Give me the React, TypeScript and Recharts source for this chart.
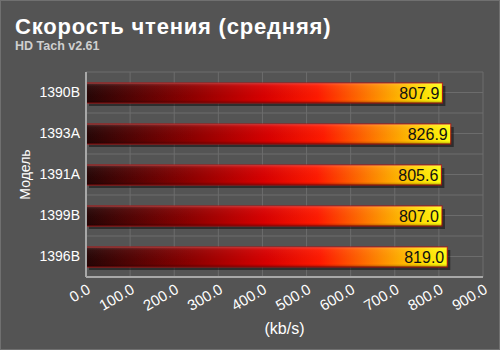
import * as React from 'react';
import { BarChart, Bar, XAxis, YAxis, CartesianGrid, LabelList, Label } from 'recharts';

const models: string[] = ['1390B', '1393A', '1391A', '1399B', '1396B'];
const speeds: number[] = [807.9, 826.9, 805.6, 807.0, 819.0];
const xTicks: number[] = [0, 100, 200, 300, 400, 500, 600, 700, 800, 900];

const title = 'Скорость чтения (средняя)';
const subtitle = 'HD Tach v2.61';
const yTitle = 'Модель';
const xTitle = '(kb/s)';

const FONT = '"Liberation Sans", Arial, sans-serif';

const data = models.map((m, i) => ({ model: m, speed: speeds[i] }));

// bar: shadow + gradient body + top sheen
const GradBar = (props: any) => {
  const { x, y, width, height } = props;
  if (!width || width <= 0) return null;
  return (
    <g>
      <rect x={x + 3} y={y + 3} width={width} height={height} fill="#000" opacity={0.45} />
      <rect x={x} y={y} width={width} height={height} fill="url(#barH)" stroke="#b01010" strokeWidth={1} />
      <rect x={x} y={y} width={width} height={height} fill="url(#barV)" />
    </g>
  );
};

// rotated tick, top-right corner sits under the grid line
const XTick = (props: any) => {
  const { x, y, payload } = props;
  return (
    <text x={x} y={y} dy="0.72em" transform={`rotate(-30 ${x} ${y})`} textAnchor="end"
      fill="#fff" fontSize={15} fontFamily={FONT}>
      {Number(payload.value).toFixed(1)}
    </text>
  );
};

const YTitle = (props: any) => {
  const vb = props.viewBox || {};
  const cx = 25;
  const cy = vb.y + vb.height / 2;
  return (
    <text x={cx} y={cy} transform={`rotate(-90 ${cx} ${cy})`} textAnchor="middle" dominantBaseline="central"
      fill="#fff" fontSize={14} fontFamily={FONT}>
      {yTitle}
    </text>
  );
};

const App = () => {
  return (
    <div style={{ position: 'fixed', left: 0, top: 0, width: 500, height: 350, background: '#545454', fontFamily: FONT, boxSizing: 'border-box', border: '1px solid #707070' }}>
      <svg width={0} height={0} style={{ position: 'absolute' }}>
        <defs>
          <linearGradient id="barH" x1="0" y1="0" x2="1" y2="0">
            <stop offset="0" stopColor="#250505" />
            <stop offset="0.3" stopColor="#900000" />
            <stop offset="0.5" stopColor="#d80000" />
            <stop offset="0.65" stopColor="#ff1a00" />
            <stop offset="0.8" stopColor="#ff8000" />
            <stop offset="0.92" stopColor="#ffd000" />
            <stop offset="1" stopColor="#ffff10" />
          </linearGradient>
          <linearGradient id="barV" x1="0" y1="0" x2="0" y2="1">
            <stop offset="0" stopColor="#ffffff" stopOpacity={0.18} />
            <stop offset="0.15" stopColor="#ffffff" stopOpacity={0.05} />
            <stop offset="0.85" stopColor="#000000" stopOpacity={0} />
            <stop offset="1" stopColor="#000000" stopOpacity={0.3} />
          </linearGradient>
        </defs>
      </svg>
      <div style={{ position: 'absolute', left: 14, top: 12, color: '#fff', fontSize: 22, fontWeight: 'bold', letterSpacing: 0.8, lineHeight: '28px', whiteSpace: 'nowrap' }}>
        {title}
      </div>
      <div style={{ position: 'absolute', left: 14, top: 38, color: '#cfcfcf', fontSize: 12.5, fontWeight: 'bold', lineHeight: '14px', whiteSpace: 'nowrap' }}>
        {subtitle}
      </div>
      <div style={{ position: 'absolute', left: -1, top: -1 }}>
        <BarChart
          width={500}
          height={350}
          data={data}
          layout="vertical"
          margin={{ top: 72, right: 17, left: 0, bottom: 0 }}
          barCategoryGap={10}
        >
          <CartesianGrid
            stroke="#6c6c6c"
            horizontalCoordinatesGenerator={({ offset }: any) => {
              const step = offset.height / (models.length * 2);
              return Array.from({ length: models.length * 2 + 1 }, (_, i) => offset.top + i * step);
            }}
          />
          <XAxis
            type="number"
            domain={[0, 900]}
            ticks={xTicks}
            axisLine={{ stroke: '#a8a8a8', strokeWidth: 2 }}
            tickLine={false}
            height={73}
            tickSize={6}
            tickMargin={0}
            tick={<XTick />}
            interval={0}
          >
            <Label value={xTitle} position="insideBottom" offset={16} fill="#fff" fontSize={16} fontFamily={FONT} />
          </XAxis>
          <YAxis
            type="category"
            dataKey="model"
            width={86}
            axisLine={{ stroke: '#a8a8a8', strokeWidth: 2 }}
            tickLine={false}
            tickMargin={0}
            tick={{ fill: '#fff', fontSize: 14, fontFamily: FONT }}
          >
            <Label content={<YTitle />} />
          </YAxis>
          <Bar dataKey="speed" shape={<GradBar />} isAnimationActive={false} barSize={20}>
            <LabelList
              dataKey="speed"
              position="insideRight"
              formatter={(v: any) => Number(v).toFixed(1)}
              fill="#111"
              fontSize={16}
              fontFamily={FONT}
              offset={3}
            />
          </Bar>
        </BarChart>
      </div>
    </div>
  );
};

export default App;
